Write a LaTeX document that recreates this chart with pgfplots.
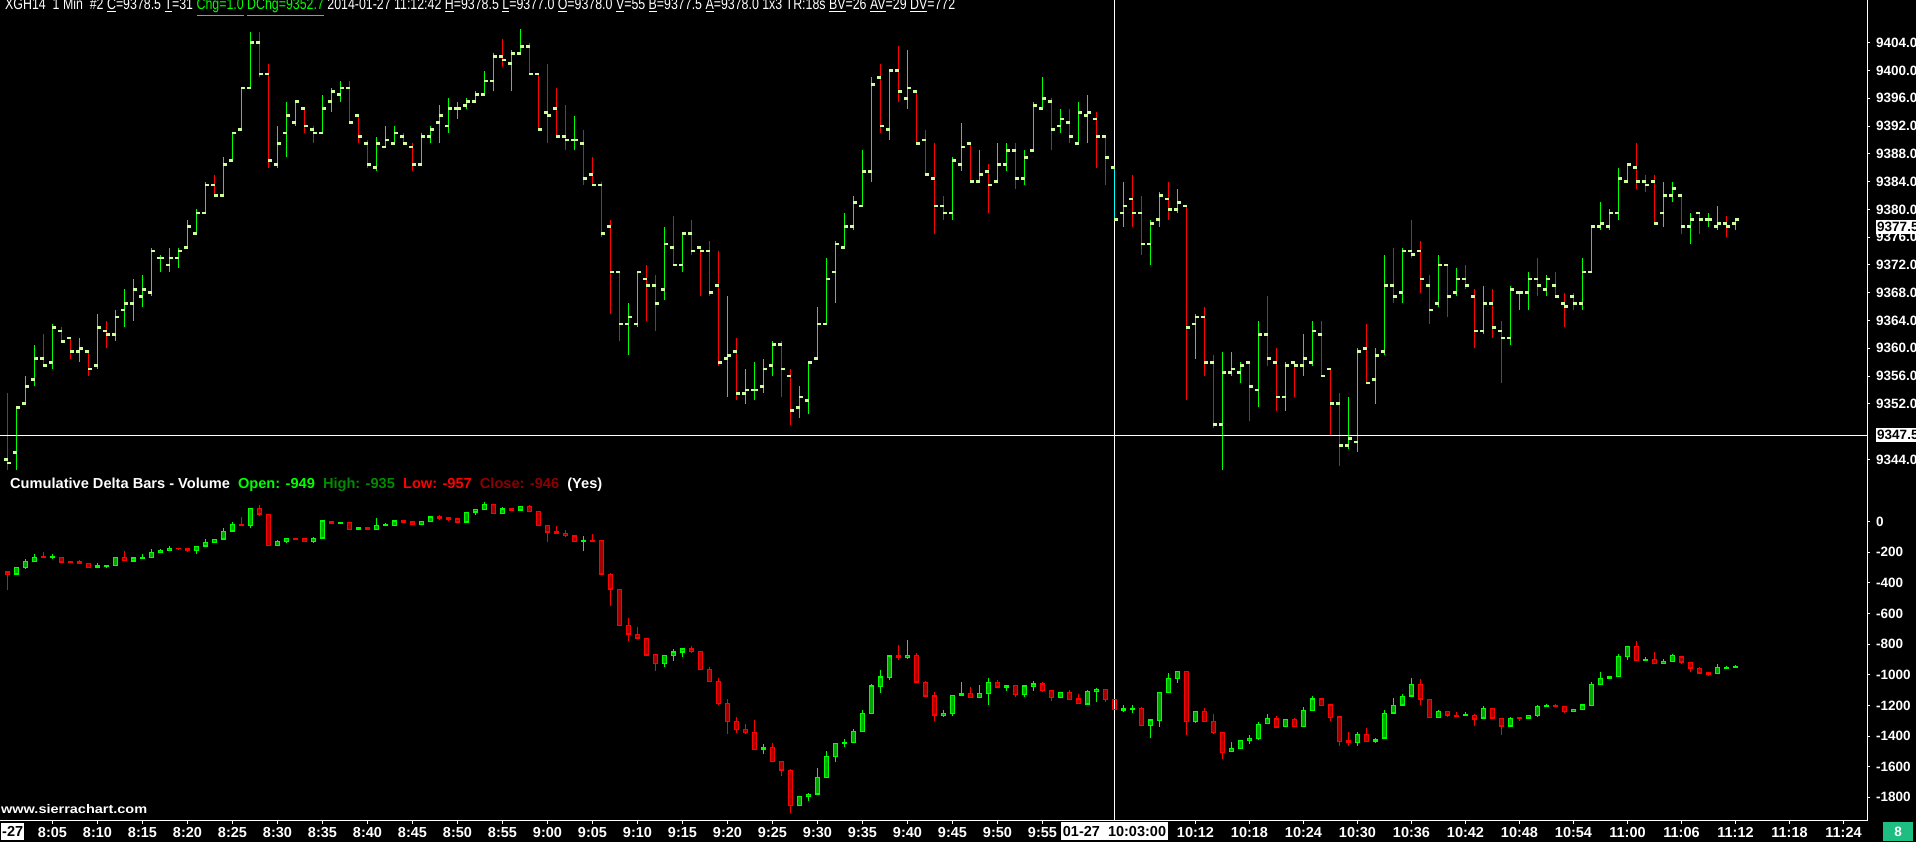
\documentclass[border=0pt]{standalone}
\usepackage{pgfplots}
\pgfplotsset{compat=1.18}
\usepackage{pgfplotstable}
\usepackage{fontspec}
\setmainfont{Liberation Sans}
\definecolor{upc}{RGB}{0,255,0}
\definecolor{dnc}{RGB}{255,0,0}
\definecolor{tkc}{RGB}{204,255,153}
\definecolor{upf}{RGB}{0,165,0}
\definecolor{dnf}{RGB}{165,0,0}
\definecolor{hic}{RGB}{0,140,0}
\definecolor{clc}{RGB}{140,0,0}
\definecolor{cyc}{RGB}{0,255,255}
\definecolor{bxg}{RGB}{30,190,130}
\newcommand\lbl{\bfseries\fontsize{13.5}{13.5}\selectfont}
\newcommand\xlbl{\bfseries\fontsize{14.5}{14.5}\selectfont}

% price columns pO pH pL pC are given as (price - 9340); du/pu = 1 for an up bar
\pgfplotstableread{
m pO pH pL pC pu dO dH dL dC du
0 4 13.5 2.5 3.5 0 -327 -327 -446 -344 0
1 5 11.5 2.5 11.5 1 -344 -298 -344 -298 1
2 12 16 12 14.5 1 -300 -244 -309 -259 1
3 15.5 20.5 14.5 18.5 1 -261 -211 -261 -231 1
4 18.5 22 17.5 17.5 0 -228 -196 -233 -233 0
5 18 23.5 17 23 1 -231 -213 -246 -226 1
6 22.5 23 21 21 0 -233 -233 -265 -265 0
7 21.5 21.5 18.5 19.5 0 -261 -255 -268 -268 0
8 19.5 21.5 18 20 1 -259 -250 -274 -274 0
9 19.5 19.5 16 17 0 -270 -270 -300 -300 0
10 17.5 25 17 23 1 -300 -272 -300 -289 1
11 22.5 24 20 22 0 -294 -283 -300 -283 1
12 22 25.5 21 24.5 1 -287 -233 -287 -233 1
13 25.5 28.5 23 26.5 1 -231 -191 -255 -255 0
14 26.5 30 24 28.5 1 -257 -228 -265 -237 1
15 27.5 30.5 26 28.5 1 -239 -211 -239 -231 1
16 28 34.5 27.5 34 1 -235 -178 -235 -198 1
17 33 33.5 31 33 1 -202 -178 -202 -185 1
18 32 34.5 31 33 1 -189 -159 -189 -172 1
19 33 34.5 31.5 34 1 -172 -172 -183 -176 0
20 34.5 38.5 34.5 37.5 1 -172 -172 -200 -187 0
21 36.5 40 36.5 39.5 1 -189 -161 -211 -161 1
22 39.5 44 39.5 43.5 1 -161 -113 -161 -135 1
23 43.5 45 42 42 0 -137 -115 -137 -115 1
24 42 47.5 42 46.5 1 -115 -43 -115 -63 1
25 47 51 47 51 1 -63 0 -63 -17 1
26 51.5 57.5 51.5 57.5 1 -17 31 -26 -26 0
27 57.5 65.5 57.5 64 1 -26 87 -43 87 1
28 64 65.5 59 59.5 0 87 109 39 48 0
29 59.5 61 46 47 0 48 48 -157 -157 0
30 46.5 52 46 49.5 1 -157 -120 -157 -128 1
31 51 55.5 47.5 53.5 1 -130 -109 -137 -109 1
32 52.5 55.5 52 55.5 1 -109 -109 -115 -115 0
33 54.5 54.5 51 52 0 -113 -113 -130 -130 0
34 51.5 52 49.5 51 0 -130 -100 -137 -109 1
35 51 56.5 51 54.5 1 -109 11 -109 5 1
36 55.5 57.5 54 57 1 2 2 -13 -13 0
37 56.5 58.5 55.5 57.5 1 -13 -4 -13 -4 1
38 57.5 58.5 52.5 52.5 0 -4 -4 -52 -52 0
39 53.5 53.5 49.5 50.5 0 -50 -32 -50 -41 1
40 49.5 50 46 46.5 0 -39 -32 -50 -50 0
41 46 50.5 45.5 49.5 1 -52 26 -52 -22 1
42 49 52 49 50 1 -26 -11 -26 -19 1
43 49.5 52 49.5 51 1 -26 5 -26 5 1
44 50.5 51 49.5 49.5 0 5 5 -6 -6 0
45 49 49.5 45.5 46.5 0 -2 -2 -19 -19 0
46 46.5 51 46.5 50.5 1 -19 2 -19 2 1
47 50.5 52 49.5 51.5 1 0 31 0 31 1
48 52.5 55 49.5 53.5 1 33 44 13 20 0
49 52 56 51 54.5 1 26 26 7 13 0
50 54.5 55.5 53 54.5 1 20 26 -4 -4 0
51 55 56 54.5 55.5 1 -4 63 -4 63 1
52 55.5 57 55.5 56.5 1 61 81 44 81 1
53 56.5 60 56.5 58.5 1 79 129 79 113 1
54 58.5 62.5 57 62 1 113 113 52 52 0
55 62 64.5 60.5 61.5 0 52 96 52 83 1
56 61 63 57 62.5 1 85 92 74 74 0
57 62.5 66 62.5 63.5 1 74 100 74 100 1
58 63.5 64 59.5 59.5 0 100 109 65 65 0
59 59.5 59.5 51.5 51.5 0 68 68 -26 -26 0
60 54 61 49.5 53.5 0 -24 -24 -130 -70 0
61 54.5 57.5 50.5 50.5 0 -67 -28 -78 -78 0
62 50.5 55 48.5 50 0 -74 -56 -98 -91 0
63 50 53.5 48.5 50 1 -91 -91 -130 -130 0
64 49.5 51.5 43.5 44.5 0 -130 -96 -192 -122 1
65 45 47.5 43.5 43.5 0 -120 -83 -128 -128 0
66 43.5 44 36 36.5 0 -122 -122 -344 -344 0
67 37.5 38.5 25 31 0 -344 -337 -548 -442 0
68 31 31 21 23.5 0 -442 -442 -679 -679 0
69 23.5 26.5 19 24.5 1 -677 -631 -777 -736 0
70 23.5 31 23 31 1 -736 -690 -762 -762 0
71 30 32 24 29 0 -762 -762 -877 -871 0
72 29 30.5 22.5 26.5 0 -866 -866 -973 -927 0
73 28.5 37.5 27 35 1 -927 -873 -947 -873 1
74 34.5 39 32 32 0 -875 -831 -908 -851 1
75 32 36.5 31 36.5 1 -853 -831 -881 -831 1
76 36.5 38.5 33.5 34 0 -831 -814 -855 -849 0
77 34.5 34.5 27.5 34 0 -845 -845 -966 -966 0
78 34 35.5 27.5 28 0 -964 -951 -1045 -1045 0
79 29 34 17.5 18 0 -1043 -1023 -1195 -1189 0
80 18.5 27.5 13 19 1 -1186 -1158 -1387 -1306 0
81 19.5 21.5 12.5 13.5 0 -1304 -1275 -1380 -1358 0
82 13.5 17 12 14 1 -1356 -1321 -1387 -1378 0
83 14 18 12.5 14 1 -1376 -1295 -1489 -1489 0
84 14.5 18.5 13.5 17 1 -1487 -1454 -1515 -1474 1
85 17.5 21 16 20.5 1 -1474 -1446 -1572 -1567 0
86 20.5 21 13 17 0 -1565 -1565 -1661 -1624 0
87 16 17 9 11 0 -1622 -1615 -1900 -1855 0
88 11.5 14.5 10 13 1 -1855 -1794 -1855 -1794 1
89 12.5 18 10.5 18 1 -1796 -1772 -1822 -1780 1
90 18.5 26 18.5 23.5 1 -1780 -1611 -1780 -1670 1
91 23.5 33 23.5 30 1 -1672 -1498 -1672 -1531 1
92 31 35.5 26.5 35 1 -1535 -1448 -1567 -1448 1
93 34.5 39.5 34.5 37.5 1 -1450 -1422 -1470 -1439 1
94 37.5 42 37 41 1 -1444 -1355 -1444 -1368 1
95 40.5 48.5 40.5 45.5 1 -1372 -1231 -1372 -1250 1
96 45.5 59 44 58 1 -1254 -1060 -1254 -1073 1
97 59 61 51 52 0 -1077 -969 -1117 -1014 1
98 51.5 60 50 60 1 -1019 -871 -1032 -877 1
99 60 63.5 55.5 57 0 -877 -806 -906 -890 0
100 56 63 54.5 57.5 1 -890 -773 -895 -873 1
101 57 57 49.5 49.5 0 -873 -860 -1049 -1049 0
102 50 51.5 45 45 0 -1049 -1040 -1140 -1140 0
103 44.5 49.5 36.5 40.5 0 -1138 -1112 -1302 -1265 0
104 40.5 42 38.5 39.5 0 -1265 -1231 -1275 -1250 1
105 39.5 47.5 38.5 47 1 -1254 -1134 -1267 -1134 1
106 46.5 52.5 45.5 49 1 -1134 -1047 -1134 -1121 1
107 49.5 49.5 44 44 0 -1121 -1080 -1149 -1149 0
108 44 48.5 44 45 1 -1149 -1067 -1149 -1121 1
109 45.5 46.5 39.5 43.5 0 -1123 -1021 -1195 -1049 1
110 44 49.5 44 46.5 1 -1049 -1034 -1082 -1082 0
111 46.5 49.5 45.5 48.5 1 -1082 -1069 -1104 -1069 1
112 48.5 49.5 43 44.5 0 -1069 -1064 -1143 -1130 0
113 44.5 48.5 43.5 47.5 1 -1130 -1067 -1143 -1073 1
114 48.5 55.5 48.5 55 1 -1077 -1038 -1104 -1060 1
115 54.5 59 54.5 56 1 -1060 -1047 -1112 -1104 0
116 55.5 56 48.5 51.5 0 -1101 -1101 -1171 -1149 0
117 52 54.5 51 53 1 -1149 -1114 -1149 -1114 1
118 52.5 54.5 49.5 50.5 0 -1114 -1099 -1162 -1162 0
119 49.5 55.5 49.5 54 1 -1158 -1125 -1189 -1189 0
120 53.5 56.5 49.5 54 1 -1193 -1099 -1197 -1106 1
121 53 54 46 50.5 0 -1110 -1086 -1178 -1095 1
122 50.5 50.5 43.5 47.5 0 -1095 -1095 -1178 -1162 0
123 46 46 38.5 38.5 0 -1160 -1160 -1228 -1228 0
124 39.5 44 37.5 40.5 1 -1230 -1197 -1243 -1219 1
125 41.5 45 37.5 39.5 0 -1226 -1197 -1247 -1219 1
126 39.5 42 33.5 35 0 -1217 -1211 -1332 -1332 0
127 35 38.5 32 38 1 -1332 -1295 -1411 -1295 1
128 38.5 42.5 37.5 42 1 -1299 -1114 -1338 -1114 1
129 41.5 44 38.5 40 0 -1117 -988 -1117 -1021 1
130 40 43 39.5 41 1 -1025 -977 -1051 -977 1
131 40.5 40.5 12.5 23 0 -977 -977 -1393 -1306 0
132 23.5 25 18.5 24.5 1 -1306 -1239 -1315 -1239 1
133 24.5 26 16 18 0 -1239 -1217 -1306 -1306 0
134 18 19 8.5 9 0 -1304 -1256 -1387 -1378 0
135 9 19.5 2.5 16.5 1 -1374 -1374 -1550 -1509 0
136 16.5 19.5 16 17 1 -1502 -1439 -1502 -1480 1
137 16.5 18 15 17.5 1 -1483 -1428 -1483 -1428 1
138 18 18 9.5 14.5 0 -1430 -1393 -1450 -1415 1
139 14 24 11.5 22 1 -1417 -1308 -1426 -1324 1
140 22 27.5 17.5 18.5 0 -1319 -1256 -1319 -1284 1
141 18 20 11 13 0 -1287 -1267 -1348 -1341 0
142 13 18 11 17.5 1 -1339 -1291 -1339 -1291 1
143 18 18 13 17.5 0 -1291 -1284 -1339 -1339 0
144 17.5 22 16 18.5 1 -1339 -1210 -1339 -1232 1
145 18 24 17.5 22.5 1 -1234 -1138 -1234 -1158 1
146 22 24 16 16 0 -1158 -1158 -1202 -1202 0
147 17 17 7.5 12 0 -1197 -1197 -1300 -1282 0
148 12 13.5 3 6 0 -1275 -1275 -1463 -1436 0
149 6 13 5.5 7 1 -1432 -1371 -1463 -1443 0
150 6.5 20 5 19.5 1 -1443 -1376 -1463 -1389 1
151 20 23.5 15 15 0 -1389 -1348 -1436 -1436 0
152 15.5 20 12 19 1 -1435 -1415 -1443 -1421 1
153 19.5 33.5 19 29 1 -1415 -1232 -1415 -1252 1
154 29 34.5 26.5 27.5 0 -1252 -1153 -1252 -1199 1
155 28 34.5 26.5 34 1 -1199 -1125 -1199 -1140 1
156 34 38.5 33 33.5 0 -1140 -1021 -1140 -1062 1
157 34 35.5 28 30 0 -1062 -1027 -1195 -1160 0
158 29 30.5 23.5 25.5 0 -1160 -1160 -1280 -1280 0
159 26.5 33.5 26 32 1 -1280 -1232 -1280 -1239 1
160 32 32 24.5 27.5 0 -1239 -1239 -1273 -1265 0
161 28 31.5 27.5 30 1 -1263 -1243 -1273 -1273 0
162 30 32 28.5 29 0 -1267 -1243 -1267 -1261 1
163 27.5 28.5 20 22.5 0 -1263 -1256 -1332 -1291 0
164 22.5 29 22 26.5 1 -1284 -1204 -1284 -1219 1
165 26.5 28.5 21.5 23 0 -1219 -1219 -1284 -1284 0
166 22.5 24 15 21.5 0 -1284 -1284 -1393 -1337 0
167 21.5 29 20.5 28.5 1 -1337 -1278 -1337 -1284 1
168 28 28 25.5 28 1 -1282 -1282 -1300 -1287 0
169 28 31 25.5 30 1 -1284 -1265 -1284 -1265 1
170 30 33 27.5 29 0 -1267 -1197 -1273 -1204 1
171 28.5 30.5 27.5 30 1 -1208 -1191 -1208 -1202 1
172 29 31 27.5 27.5 0 -1202 -1191 -1208 -1208 0
173 26.5 28 23 26 0 -1206 -1206 -1250 -1241 0
174 27.5 28 25.5 26.5 0 -1241 -1226 -1241 -1226 1
175 26.5 33 25.5 31 1 -1228 -1197 -1228 -1197 1
176 31 37.5 31 37.5 1 -1202 -1047 -1202 -1062 1
177 37.5 41 37 38 1 -1064 -982 -1064 -1021 1
178 37.5 40 37 39.5 1 -1023 -1010 -1023 -1010 1
179 39.5 46 38.5 44.5 1 -1012 -866 -1012 -880 1
180 44 46.5 44 46.5 1 -882 -814 -903 -814 1
181 46 49.5 43 44 0 -814 -779 -908 -908 0
182 44 45 42.5 43.5 0 -908 -886 -908 -897 1
183 44 45 38 38 0 -899 -851 -927 -927 0
184 39.5 44 37.5 42 1 -927 -899 -927 -912 1
185 42 44 41 43 1 -914 -866 -914 -873 1
186 42 42 36.5 37.5 0 -882 -882 -927 -919 0
187 37.5 39.5 35 38.5 1 -919 -919 -980 -958 0
188 39.5 39.5 36.5 38.5 0 -958 -951 -990 -990 0
189 38.5 39.5 37.5 38.5 1 -988 -980 -1008 -997 0
190 37.5 40.5 37 38 1 -993 -930 -993 -951 1
191 38 39 36 37.5 0 -958 -945 -960 -950 1
192 38 38.5 37 38.5 1 -949 -935 -957 -946 1
}\bars

\pgfplotsset{
  pup/.style={restrict expr to domain={\thisrow{pu}}{0.5:1.5}},
  pdn/.style={restrict expr to domain={\thisrow{pu}}{-0.5:0.5}},
  dup/.style={restrict expr to domain={\thisrow{du}}{0.5:1.5}},
  ddn/.style={restrict expr to domain={\thisrow{du}}{-0.5:0.5}},
  ebar/.style={draw=none, forget plot, error bars/y dir=plus, error bars/y explicit,
     error bars/error mark=none, error bars/error bar style={#1}},
  common/.style={scale only axis, width=1867pt, xmin=-0.8333, xmax=206.611,
     axis line style={white,-,line width=1pt}, tick style={white,line width=1pt},
     tick align=outside, major tick length=3pt,
     yticklabel style={font=\lbl, text=white, inner sep=0pt, xshift=6pt},
     xticklabel style={font=\xlbl, text=white, inner sep=0pt, yshift=-3pt}},
}

\begin{document}
\begin{tikzpicture}[x=1pt,y=1pt]
\fill[black] (0,0) rectangle (1916,842);

% ---------------- price pane (y = price - 9340) ----------------
\begin{scope}[yshift=366pt]
\begin{axis}[common, height=476pt,
  ymin=1.61, ymax=70.16,
  axis x line*=bottom, axis y line*=right, x axis line style={draw=none}, xtick=\empty,
  ytick={4,12,16,20,24,28,32,36,40,44,48,52,56,60,64},
  yticklabels={9344.0,9352.0,9356.0,9360.0,9364.0,9368.0,9372.0,9376.0,9380.0,9384.0,9388.0,9392.0,9396.0,9400.0,9404.0}]
\addplot[ebar={draw=upc,line width=1pt}, pup] table[x=m, y=pL, y error plus expr=\thisrow{pH}-\thisrow{pL}] {\bars};
\addplot[ebar={draw=dnc,line width=1pt}, pdn] table[x=m, y=pL, y error plus expr=\thisrow{pH}-\thisrow{pL}] {\bars};
\addplot[only marks, mark=-, mark size=2pt, mark options={xshift=-1.7pt, draw=tkc, line width=2.7pt}] table[x=m, y=pO] {\bars};
\addplot[only marks, mark=-, mark size=2pt, mark options={xshift=1.7pt, draw=tkc, line width=2.7pt}] table[x=m, y=pC] {\bars};
% crosshair
\addplot[white, line width=1pt] coordinates {(-0.8333,7.5) (206.611,7.5)};
\addplot[white, line width=1pt] coordinates {(123,1.61) (123,70.16)};
\addplot[ebar={draw=cyc,line width=1pt}, restrict expr to domain={\thisrow{m}}{122.5:123.5}] table[x=m, y=pL, y error plus expr=\thisrow{pH}-\thisrow{pL}] {\bars};
\end{axis}
\end{scope}

% ---------------- cumulative delta pane ----------------
\begin{scope}[yshift=21pt]
\begin{axis}[common, height=345pt,
  ymin=-1954.9, ymax=298.5,
  axis x line*=bottom, axis y line*=right,
  ytick={-1800,-1600,-1400,-1200,-1000,-800,-600,-400,-200,0},
  yticklabels={-1800,-1600,-1400,-1200,-1000,-800,-600,-400,-200,0},
  xtick={5,10,15,20,25,30,35,40,45,50,55,60,65,70,75,80,85,90,95,100,105,110,115,132,138,144,150,156,162,168,174,180,186,192,198,204},
  xticklabels={8:05,8:10,8:15,8:20,8:25,8:30,8:35,8:40,8:45,8:50,8:55,9:00,9:05,9:10,9:15,9:20,9:25,9:30,9:35,9:40,9:45,9:50,9:55,10:12,10:18,10:24,10:30,10:36,10:42,10:48,10:54,11:00,11:06,11:12,11:18,11:24}]
% wicks
\addplot[ebar={draw=upc,line width=1pt}, dup] table[x=m, y=dL, y error plus expr=\thisrow{dH}-\thisrow{dL}] {\bars};
\addplot[ebar={draw=dnc,line width=1pt}, ddn] table[x=m, y=dL, y error plus expr=\thisrow{dH}-\thisrow{dL}] {\bars};
% bodies, outline colour
\addplot[ebar={draw=upc,line width=5pt}, dup] table[x=m, y expr={min(\thisrow{dO},\thisrow{dC})}, y error plus expr={abs(\thisrow{dC}-\thisrow{dO})}] {\bars};
\addplot[ebar={draw=dnc,line width=5pt}, ddn] table[x=m, y expr={min(\thisrow{dO},\thisrow{dC})}, y error plus expr={abs(\thisrow{dC}-\thisrow{dO})}] {\bars};
% bodies, inner fill
\addplot[ebar={draw=upf,line width=3pt,shorten <=1pt,shorten >=1pt}, restrict expr to domain={\thisrow{du}*100000+abs(\thisrow{dC}-\thisrow{dO})}{100016:200000}] table[x=m, y expr={min(\thisrow{dO},\thisrow{dC})}, y error plus expr={abs(\thisrow{dC}-\thisrow{dO})}] {\bars};
\addplot[ebar={draw=dnf,line width=3pt,shorten <=1pt,shorten >=1pt}, restrict expr to domain={\thisrow{du}*100000+abs(\thisrow{dC}-\thisrow{dO})}{16:99999}] table[x=m, y expr={min(\thisrow{dO},\thisrow{dC})}, y error plus expr={abs(\thisrow{dC}-\thisrow{dO})}] {\bars};
% body edges
\addplot[only marks, mark=-, mark size=2.5pt, mark options={draw=upc, line width=1pt}, dup] table[x=m, y=dO] {\bars};
\addplot[only marks, mark=-, mark size=2.5pt, mark options={draw=upc, line width=1pt}, dup] table[x=m, y=dC] {\bars};
\addplot[only marks, mark=-, mark size=2.5pt, mark options={draw=dnc, line width=1pt}, ddn] table[x=m, y=dO] {\bars};
\addplot[only marks, mark=-, mark size=2.5pt, mark options={draw=dnc, line width=1pt}, ddn] table[x=m, y=dC] {\bars};
% crosshair
\addplot[white, line width=1pt] coordinates {(123,-1954.9) (123,298.5)};
\end{axis}
\end{scope}

% ---------------- texts ----------------
\node[anchor=south west, inner sep=0pt, text=white] at (5,826) {\resizebox{950pt}{11.5pt}{XGH14\ \ 1 Min\ \ \#2 \underline{C}=9378.5 \underline{T}=31 \textcolor{upc}{\underline{Chg=1.0}} \textcolor{upc}{\underline{DChg=9352.7}} 2014-01-27 11:12:42 \underline{H}=9378.5 \underline{L}=9377.0 \underline{O}=9378.0 \underline{V}=55 \underline{B}=9377.5 \underline{A}=9378.0 1x3 TR:18s \underline{BV}=26 \underline{AV}=29 \underline{DV}=772}};

\node[anchor=south west, inner sep=0pt, text=white] at (10,350) {\resizebox{592pt}{10.5pt}{\bfseries Cumulative Delta Bars - Volume\ \ \textcolor{upc}{Open: -949}\ \ \textcolor{hic}{High: -935}\ \ \textcolor{dnc}{Low: -957}\ \ \textcolor{clc}{Close: -946}\ \ (Yes)}};

\node[anchor=south west, inner sep=0pt, text=white] at (1,28) {\resizebox{146pt}{9pt}{\bfseries www.sierrachart.com}};

% price boxes
\node[anchor=west, fill=white, text=black, inner sep=1pt, minimum height=14pt, font=\lbl] at (1876,615.2) {9377.5};
\node[anchor=west, fill=white, text=black, inner sep=1pt, minimum height=14pt, font=\lbl] at (1876,406.9) {9347.5};

% time boxes
\node[fill=white, text=black, inner sep=2pt, minimum height=18pt, font=\xlbl] at (1114.5,10.5) {01-27\ \ 10:03:00};
\node[anchor=west, fill=white, text=black, inner sep=1pt, minimum height=17pt, font=\xlbl] at (1,10.5) {-27};

% corner box
\node[fill=bxg, text=white, minimum width=30pt, minimum height=19pt, inner sep=0pt, font=\lbl] at (1898,10.5) {8};

\pgfresetboundingbox
\useasboundingbox (0,0) rectangle (1916,842);
\end{tikzpicture}
\end{document}
